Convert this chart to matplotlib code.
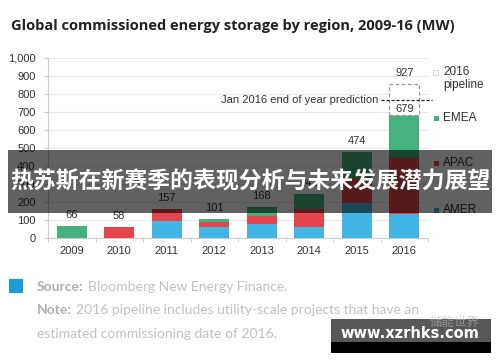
import matplotlib
matplotlib.use("Agg")
import matplotlib.pyplot as plt
from matplotlib.patches import Rectangle
import numpy as np

# ---------------- data ----------------
years = ["2009", "2010", "2011", "2012", "2013", "2014", "2015", "2016"]
amer = [0, 0, 94, 58, 78, 58, 191, 132]
apac = [0, 58, 63, 27, 44, 99, 134, 308]
emea = [66, 0, 0, 16, 46, 85, 149, 239]
totals = [66, 58, 157, 101, 168, 242, 474, 679]
pipeline_extra = 176          # visual height of the dashed 2016 pipeline box
pipeline_label = 927
prediction_level = 763
yticks = [0, 100, 200, 300, 400, 500, 600, 700, 800, 900, 1000]
ytick_labels = ["0", "100", "200", "300", "400", "500", "600", "700", "800", "900", "1,000"]

C_AMER = "#43b5e4"
C_APAC = "#e5464c"
C_EMEA = "#46b07f"
TXT = "#333333"

W, H = 500, 362
fig = plt.figure(figsize=(W / 100, H / 100), dpi=100)
fig.patch.set_facecolor("white")

def fx(x):
    return x / W

def fy(y):
    return 1 - y / H

CH = "Liberation Sans"

ax = fig.add_axes([fx(48), fy(237.7), fx(428) - fx(48), fy(57.5) - fy(237.7)])
x = np.arange(len(years))
bw = 0.63
ax.bar(x, amer, bw, color=C_AMER, zorder=3)
ax.bar(x, apac, bw, bottom=amer, color=C_APAC, zorder=3)
b2 = np.array(amer) + np.array(apac)
ax.bar(x, emea, bw, bottom=b2, color=C_EMEA, zorder=3)
# pipeline dashed box for 2016
ax.bar(x[-1], pipeline_extra, bw, bottom=totals[-1], facecolor="white",
       edgecolor="#999999", linestyle=(0, (3, 2)), linewidth=0.9, zorder=3)

ax.set_xlim(-0.5, 7.5)
ax.set_ylim(0, 1000)
ax.set_yticks(yticks)
ax.set_yticklabels(ytick_labels, fontsize=8, color=TXT, family=CH)
ax.set_xticks(x)
ax.set_xticklabels(years, fontsize=8, color=TXT, family=CH)
ax.set_xticks(np.arange(-0.5, 8, 1), minor=True)
ax.tick_params(axis="x", which="major", length=0, pad=6)
ax.tick_params(axis="x", which="minor", length=3, color="#cccccc")
ax.tick_params(axis="y", length=3, color="#cccccc", pad=6)
ax.grid(axis="y", color="#e8e8e8", linewidth=0.8, zorder=0)
for s in ["top", "right"]:
    ax.spines[s].set_visible(False)
for s in ["left", "bottom"]:
    ax.spines[s].set_color("#cccccc")
    ax.spines[s].set_linewidth(0.8)

# value labels
for i, t in enumerate(totals[:-1]):
    ax.annotate(str(t), (float(x[i]), t), xytext=(0, 8), textcoords="offset points",
                ha="center", va="center", fontsize=8, color=TXT, family=CH, zorder=4)
ax.annotate(str(totals[-1]), (float(x[-1]), totals[-1]), xytext=(0, 4.5), textcoords="offset points",
            ha="center", va="center", fontsize=8, color=TXT, family=CH, zorder=5)
ax.annotate(str(pipeline_label), (float(x[-1]), totals[-1] + pipeline_extra), xytext=(0, 8),
            textcoords="offset points", ha="center", va="center", fontsize=8,
            color=TXT, family=CH, zorder=5)

# prediction dashed line
ax.plot([6.5, 7.58], [prediction_level, prediction_level], color="#222222",
        linestyle=(0, (2.5, 1.5)), linewidth=0.9, clip_on=False, zorder=4)
ax.text(6.45, prediction_level, "Jan 2016 end of year prediction", ha="right", va="center",
        fontsize=8, color=TXT, family=CH)

# ---------------- legend (manual) ----------------
leg_x = 443
fig.add_artist(Rectangle((fx(433), fy(75)), fx(5), fy(0) - fy(5),
                         facecolor="white", edgecolor="#aaaaaa", linewidth=0.6,
                         linestyle=(0, (1, 1)), transform=fig.transFigure))
fig.text(fx(leg_x), fy(72), "2016", fontsize=8.5, color=TXT, family=CH, va="center")
fig.text(fx(leg_x), fy(85), "pipeline", fontsize=8.5, color=TXT, family=CH, va="center")
for yy, col, lab in [(118, C_EMEA, "EMEA"), (163, C_APAC, "APAC"), (210, C_AMER, "AMER")]:
    fig.add_artist(Rectangle((fx(434), fy(yy + 2.5)), fx(5), fy(0) - fy(5),
                             facecolor=col, edgecolor="none", transform=fig.transFigure))
    fig.text(fx(leg_x), fy(yy), lab, fontsize=8.5, color=TXT, family=CH, va="center")

# ---------------- title ----------------
fig.canvas.draw()
renderer = fig.canvas.get_renderer()

def fit(t, width_px):
    bb = t.get_window_extent(renderer)
    t.set_fontsize(t.get_fontsize() * width_px / bb.width)

title = fig.text(fx(11), fy(26), "Global commissioned energy storage by region, 2009-16 (MW)",
                 fontsize=11, fontweight="bold", color="#222222", family="Open Sans", va="center")
fit(title, 442)

# ---------------- footer ----------------
fig.add_artist(Rectangle((fx(9), fy(292.5)), fx(14), fy(0) - fy(14),
                         facecolor="#1b9ad8", edgecolor="none", transform=fig.transFigure))
FC = "#c2c2c2"
FB = "#b0b0b0"
FF = "Lato"
s1 = fig.text(fx(37), fy(287), "Source:", fontsize=10, fontweight="bold", color=FB,
              family=FF, va="center")
s1w = s1.get_window_extent(renderer).width
s2 = fig.text(fx(37 + s1w + 4), fy(287), "Bloomberg New Energy Finance.", fontsize=10,
              color=FC, family=FF, va="center")
n1 = fig.text(fx(37), fy(310.5), "Note:", fontsize=10, fontweight="bold", color=FB,
              family=FF, va="center")
n1w = n1.get_window_extent(renderer).width
n2 = fig.text(fx(37 + n1w + 4), fy(310.5),
              "2016 pipeline includes utility-scale projects that have an", fontsize=10,
              color=FC, family=FF, va="center")
l3 = fig.text(fx(37), fy(333.5), "estimated commissioning date of 2016.", fontsize=10,
              color=FC, family=FF, va="center")

# ---------------- overlays ----------------
fig.add_artist(Rectangle((fx(8), fy(213)), fx(492) - fx(8), fy(150) - fy(213),
                         facecolor="black", alpha=0.62, edgecolor="none",
                         transform=fig.transFigure, zorder=10))
bt = fig.text(fx(250), fy(182), "热苏斯在新赛季的表现分析与未来发展潜力展望", fontsize=17,
              fontweight="bold", color="white", family=["Noto Sans CJK SC", "DejaVu Sans"],
              ha="center", va="center", zorder=11)
fit(bt, 480)

fig.add_artist(Rectangle((fx(331), fy(342)), fx(160), fy(319) - fy(342),
                         facecolor="#333333", alpha=0.82, edgecolor="none",
                         transform=fig.transFigure, zorder=10))
fig.text(fx(455), fy(322), "储能世界", fontsize=9, color="#bbbbbb", alpha=0.6,
         family=["Noto Sans CJK SC", "DejaVu Sans"], ha="center", va="center", zorder=10.5)
fig.add_artist(Rectangle((fx(331), fy(353)), fx(160), fy(342) - fy(353),
                         facecolor="black", edgecolor="none",
                         transform=fig.transFigure, zorder=10))
wt = fig.text(fx(410), fy(333), "www.xzrhks.com", fontsize=11, fontweight="bold", color="white",
              family="DejaVu Sans", ha="center", va="center", zorder=11)
fit(wt, 138)

fig.savefig("out.png", dpi=100, facecolor="white")
